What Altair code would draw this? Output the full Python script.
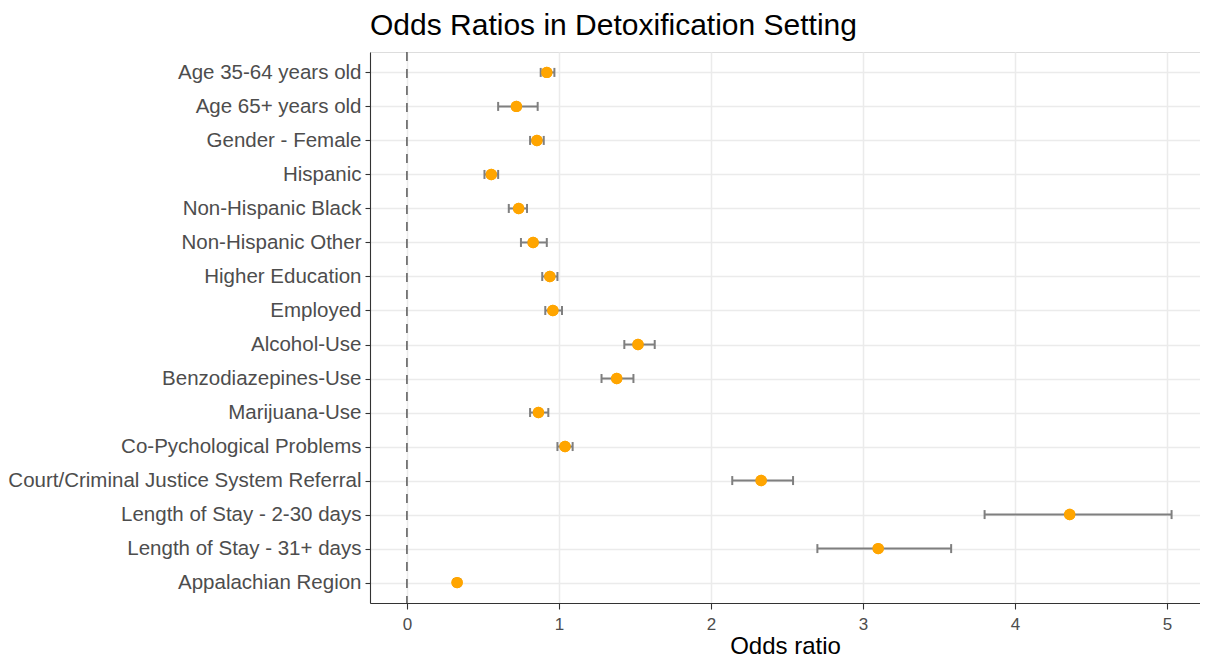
import altair as alt
import pandas as pd

categories = [
    "Age 35-64 years old",
    "Age 65+ years old",
    "Gender - Female",
    "Hispanic",
    "Non-Hispanic Black",
    "Non-Hispanic Other",
    "Higher Education",
    "Employed",
    "Alcohol-Use",
    "Benzodiazepines-Use",
    "Marijuana-Use",
    "Co-Pychological Problems",
    "Court/Criminal Justice System Referral",
    "Length of Stay - 2-30 days",
    "Length of Stay - 31+ days",
    "Appalachian Region",
]
odds_ratio = [0.92, 0.72, 0.855, 0.555, 0.735, 0.83, 0.94, 0.96, 1.52, 1.38, 0.865, 1.04, 2.33, 4.36, 3.10, 0.33]
ci_lower = [0.88, 0.60, 0.81, 0.51, 0.67, 0.75, 0.89, 0.91, 1.43, 1.28, 0.81, 0.99, 2.14, 3.80, 2.70, 0.31]
ci_upper = [0.97, 0.86, 0.90, 0.60, 0.79, 0.92, 0.99, 1.02, 1.63, 1.49, 0.93, 1.09, 2.54, 5.03, 3.58, 0.35]
x_ticks = [0, 1, 2, 3, 4, 5]

df = pd.DataFrame({"term": categories, "or": odds_ratio, "lo": ci_lower, "hi": ci_upper})
ref = pd.DataFrame({"x": [0]})

FONT = "Liberation Sans"

xscale = alt.Scale(domain=[-0.243, 5.217], nice=False, zero=False)
yscale = alt.Scale(type="point", domain=categories, padding=0.6)

x_enc = alt.X(
    "or:Q",
    scale=xscale,
    title="Odds ratio",
    axis=alt.Axis(
        values=x_ticks,
        format="d",
        grid=True,
        gridColor="#EBEBEB",
        gridWidth=1.5,
        domainColor="#333333",
        domainWidth=1.1,
        tickColor="#333333",
        tickWidth=1.1,
        tickSize=6,
        labelFont=FONT,
        labelFontSize=17,
        labelColor="#4D4D4D",
        labelPadding=7,
        titleFont=FONT,
        titleFontSize=24,
        titleFontWeight="normal",
        titleColor="#000000",
        titlePadding=2,
    ),
)
y_enc = alt.Y(
    "term:N",
    scale=yscale,
    title=None,
    axis=alt.Axis(
        grid=True,
        gridColor="#EBEBEB",
        gridWidth=1.5,
        domainColor="#333333",
        domainWidth=1.1,
        tickColor="#333333",
        tickWidth=1.1,
        tickSize=5,
        labelFont=FONT,
        labelFontSize=20.5,
        labelColor="#4D4D4D",
        labelPadding=4,
        labelLimit=500,
    ),
)

base = alt.Chart(df)

vline = alt.Chart(ref).mark_rule(color="#333333", strokeWidth=1.2, strokeDash=[9, 8]).encode(
    x=alt.X("x:Q", scale=xscale)
)

bars = base.mark_rule(color="#7F7F7F", strokeWidth=2).encode(
    x=alt.X("lo:Q", scale=xscale), x2="hi:Q", y=alt.Y("term:N", scale=yscale)
)
cap_lo = base.mark_tick(color="#7F7F7F", thickness=2, size=9, opacity=1).encode(
    x=alt.X("lo:Q", scale=xscale), y=alt.Y("term:N", scale=yscale)
)
cap_hi = base.mark_tick(color="#7F7F7F", thickness=2, size=9, opacity=1).encode(
    x=alt.X("hi:Q", scale=xscale), y=alt.Y("term:N", scale=yscale)
)
points = base.mark_point(filled=True, color="#FFA500", size=130, opacity=1).encode(
    x=x_enc, y=y_enc
)

chart = (
    alt.layer(points, vline, bars, cap_lo, cap_hi, points)
    .properties(
        width=830,
        height=551,
        title=alt.TitleParams(
            "Odds Ratios in Detoxification Setting",
            anchor="start",
            frame="group",
            font=FONT,
            fontSize=30,
            fontWeight="normal",
            color="#000000",
            offset=10,
        ),
        autosize=alt.AutoSizeParams(type="none"),
        padding={"left": 362, "top": 44, "right": 0, "bottom": 57},
    )
    .configure_view(stroke="#333333", strokeWidth=1.1)
    .configure(background="white")
)

chart.save("out.html", embed_options={"renderer": "svg", "actions": False})
